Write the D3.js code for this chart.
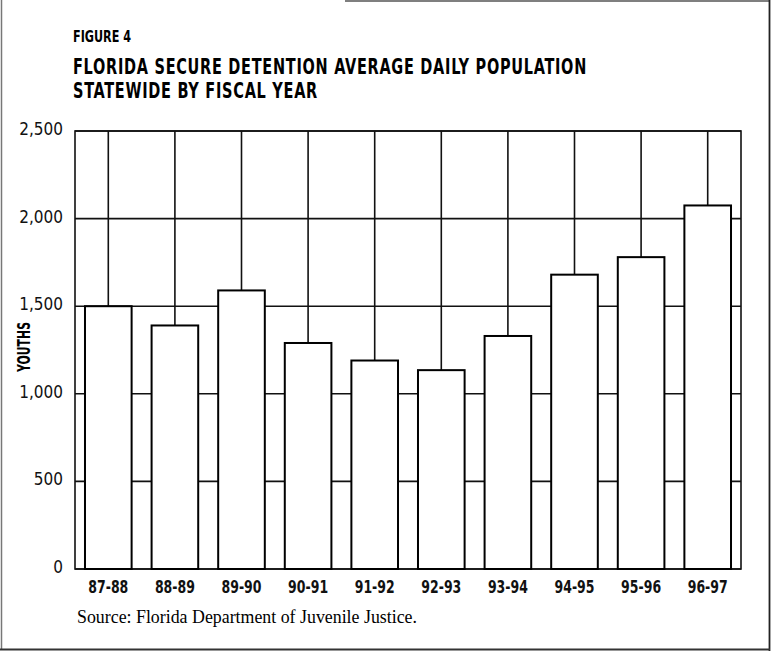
<!DOCTYPE html>
<html><head><meta charset="utf-8">
<script src="https://cdn.jsdelivr.net/npm/d3@7"></script>
<style>
html,body{margin:0;padding:0;background:#fff;}
svg{display:block;}
.cond{font-family:"DejaVu Sans Condensed","Liberation Sans Narrow","DejaVu Sans",sans-serif;font-stretch:condensed;}
</style></head>
<body>
<script>
const categories = ["87-88","88-89","89-90","90-91","91-92","92-93","93-94","94-95","95-96","96-97"];
const values = [1500, 1390, 1590, 1290, 1190, 1135, 1330, 1680, 1780, 2075];
const yTicks = [0, 500, 1000, 1500, 2000, 2500];
const yTickLabels = ["0","500","1,000","1,500","2,000","2,500"];
const figureLabel = "FIGURE 4";
const titleLines = ["FLORIDA SECURE DETENTION AVERAGE DAILY POPULATION","STATEWIDE BY FISCAL YEAR"];
const yLabel = "YOUTHS";
const sourceText = "Source: Florida Department of Juvenile Justice.";

(function(){
const W = 775, H = 655;
const svg = d3.select("body").append("svg").attr("width", W).attr("height", H);

// page border
svg.append("line").attr("x1",1.5).attr("x2",1.5).attr("y1",0).attr("y2",650).attr("stroke","#777").attr("stroke-width",1.5);
svg.append("line").attr("x1",345).attr("x2",770).attr("y1",1).attr("y2",1).attr("stroke","#555").attr("stroke-width",1.5);
svg.append("line").attr("x1",769.5).attr("x2",769.5).attr("y1",0).attr("y2",651).attr("stroke","#222").attr("stroke-width",1.8);
svg.append("line").attr("x1",0).attr("x2",770).attr("y1",649.5).attr("y2",649.5).attr("stroke","#333").attr("stroke-width",1.8);

const pL = 75, pR = 741, pT = 131, pB = 569;
const x = d3.scaleBand().domain(categories).range([pL, pR]).paddingInner(0.3).paddingOuter(0.15);
const y = d3.scaleLinear().domain([0, 2500]).range([pB, pT]);

// titles
svg.append("text").attr("class","cond").attr("x",73).attr("y",42)
  .attr("font-size",15).attr("font-weight","bold").attr("textLength",58).attr("lengthAdjust","spacingAndGlyphs")
  .text(figureLabel);
const titleLens = [514, 245];
titleLines.forEach((t,i)=>{
  svg.append("text").attr("class","cond").attr("x",73).attr("y",74 + i*24)
    .attr("font-size",22).attr("font-weight","bold").attr("letter-spacing",1)
    .attr("textLength",titleLens[i]).attr("lengthAdjust","spacingAndGlyphs")
    .text(t);
});

// grid
const g = svg.append("g");
g.selectAll("line.h").data(yTicks).join("line").attr("class","h")
  .attr("x1",pL).attr("x2",pR).attr("y1",d=>y(d)).attr("y2",d=>y(d))
  .attr("stroke","#111").attr("stroke-width",1.6);
g.selectAll("line.v").data(categories).join("line").attr("class","v")
  .attr("x1",d=>x(d)+x.bandwidth()/2).attr("x2",d=>x(d)+x.bandwidth()/2)
  .attr("y1",pT).attr("y2",pB).attr("stroke","#111").attr("stroke-width",1.6);
g.append("rect").attr("x",pL).attr("y",pT).attr("width",pR-pL).attr("height",pB-pT)
  .attr("fill","none").attr("stroke","#111").attr("stroke-width",1.6);

// bars
g.selectAll("rect.bar").data(categories).join("rect").attr("class","bar")
  .attr("x",d=>x(d)).attr("width",x.bandwidth())
  .attr("y",(d,i)=>y(values[i])).attr("height",(d,i)=>y(0)-y(values[i]))
  .attr("fill","#fff").attr("stroke","#000").attr("stroke-width",2);

// y axis labels
const yAxis = d3.axisLeft(y).tickValues(yTicks).tickFormat((d,i)=>yTickLabels[i]).tickSize(0).tickPadding(12);
const ya = svg.append("g").attr("transform",`translate(${pL},0)`).call(yAxis);
ya.select(".domain").remove();
ya.selectAll("text").attr("font-size",17).attr("fill","#111").attr("dy","0.2em")
  .style("font-family",'"DejaVu Sans Condensed","Liberation Sans Narrow",sans-serif');

// x axis labels
const xAxis = d3.axisBottom(x).tickSize(0).tickPadding(12);
const xa = svg.append("g").attr("transform",`translate(0,${pB})`).call(xAxis);
xa.select(".domain").remove();
xa.selectAll("text").attr("font-size",17).attr("font-weight","bold").attr("fill","#111")
  .attr("textLength",40).attr("lengthAdjust","spacingAndGlyphs")
  .style("font-family",'"DejaVu Sans Condensed","Liberation Sans Narrow",sans-serif');

// y label
svg.append("text").attr("class","cond").attr("transform","translate(30,347) rotate(-90)")
  .attr("text-anchor","middle").attr("font-size",18).attr("font-weight","bold")
  .attr("textLength",50).attr("lengthAdjust","spacingAndGlyphs").text(yLabel);

// source
svg.append("text").attr("x",77).attr("y",623)
  .attr("font-family",'"Liberation Serif","DejaVu Serif",serif').attr("font-size",18)
  .attr("textLength",340).attr("lengthAdjust","spacingAndGlyphs").text(sourceText);
})();
</script>
</body></html>
